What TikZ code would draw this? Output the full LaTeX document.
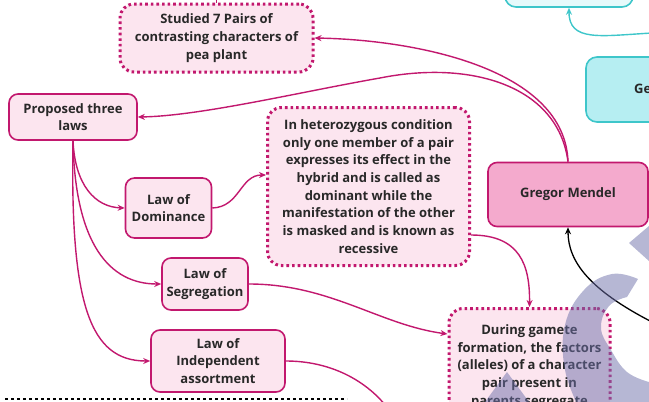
\documentclass[tikz,border=0pt]{standalone}
\usepackage{fontspec}
\setmainfont{Open Sans}
\usetikzlibrary{arrows.meta,calc}
\definecolor{mag}{RGB}{194,24,110}
\definecolor{lpink}{RGB}{252,229,239}
\definecolor{mpink}{RGB}{244,170,205}
\definecolor{tealc}{RGB}{62,198,202}
\definecolor{lcyan}{RGB}{230,250,251}
\definecolor{mcyan}{RGB}{182,238,242}
\definecolor{txt}{RGB}{40,40,40}
\definecolor{wm}{RGB}{110,112,170}
\tikzset{
  base/.style={rounded corners=9pt, font=\fontsize{13}{17.7}\selectfont\bfseries, text=txt, align=center, inner sep=0pt},
  solidbox/.style={base, draw=mag, line width=1.6pt, fill=lpink},
  dotbox/.style={base, draw=mag, line width=3pt, dash pattern=on 2.6pt off 3pt, fill=lpink, rounded corners=14pt},
  cyanbox/.style={base, draw=tealc, line width=1.6pt, rounded corners=11pt},
  conn/.style={draw=mag, line width=1.4pt, -{Stealth[length=7pt,width=6pt]}},
  wmark/.style={fill=wm, fill opacity=0.5, draw=none},
}
\begin{document}
\begin{tikzpicture}[x=1pt,y=-1pt]
\useasboundingbox (0,0) rectangle (649,402);
% cyan boxes
\node[cyanbox, fill=lcyan, minimum width=128pt, minimum height=60pt] (top) at (569,-23) {};
\node[cyanbox, fill=mcyan, minimum width=130pt, minimum height=65pt] (gen) at (651,89.5) {};
\node[base, anchor=west] (gentext) at (634,89) {Ge};
% pink nodes
\node[dotbox, minimum width=193pt, minimum height=68pt] (studied) at (216.5,38) {Studied 7 Pairs of\\contrasting characters of\\pea plant};
\node[solidbox, minimum width=128pt, minimum height=46pt] (proposed) at (73,117) {Proposed three\\laws};
\node[dotbox, minimum width=202pt, minimum height=158pt] (hetero) at (368.5,186.5) {In heterozygous condition\\only one member of a pair\\expresses its effect in the\\hybrid and is called as\\dominant while the\\manifestation of the other\\is masked and is known as\\recessive};
\node[solidbox, fill=mpink, minimum width=160pt, minimum height=64pt] (mendel) at (568,194.5) {Gregor Mendel};
\node[solidbox, minimum width=86pt, minimum height=60pt] (dominance) at (168.5,208) {Law of\\Dominance};
\node[solidbox, minimum width=86pt, minimum height=52pt] (segregation) at (205,284) {Law of\\Segregation};
\node[solidbox, minimum width=134pt, minimum height=62pt] (independent) at (218,361) {Law of\\Independent\\assortment};
\node[dotbox, anchor=north, minimum width=161pt, inner ysep=16pt, text depth=110pt] (during) at (529.5,307) {During gamete\\formation, the factors\\(alleles) of a character\\pair present in\\parents segregate};
% coordinates for free ends
\coordinate (topin) at (216.5,-3);
\coordinate (tealin) at (652,33);
\coordinate (blackin) at (652,322);
\coordinate (indout) at (386,406);
% connectors
\draw[mag, line width=1.4pt] (topin) -- (studied.north);
\draw[conn] (mendel.north) .. controls (565,70) and (420,40) .. (studied.east);
\draw[conn] (mendel.north) .. controls (558,85) and (470,60) .. (380,78) .. controls (300,92) and (200,116) .. (proposed.east);
\draw[conn] (proposed.south) .. controls (75,185) and (95,207) .. (dominance.west);
\draw[conn] (proposed.south) .. controls (75,245) and (110,284) .. (segregation.west);
\draw[conn] (proposed.south) .. controls (70,305) and (90,361) .. (independent.west);
\draw[conn] (dominance.east) .. controls (240,207) and (240,175) .. (hetero.west |- 0,175);
\draw[conn] (segregation.east) .. controls (330,284) and (380,325) .. (during.west |- 0,334);
\draw[conn] (hetero.east |- 0,235) .. controls (520,235) and (530,265) .. (during.north);
\draw[mag, line width=1.4pt] (independent.east) .. controls (330,361) and (365,380) .. (indout);
\draw[black, line width=1.3pt, -{Stealth[length=7pt,width=6pt]}] (blackin) .. controls (590,290) and (568,262) .. (mendel.south);
\draw[tealc, line width=1.4pt, -{Stealth[length=7pt,width=6pt]}] (tealin) .. controls (600,36) and (569,42) .. (top.south);
% dotted line at bottom
\draw[black, line width=2.6pt, dash pattern=on 3pt off 3pt] (5,399) -- (347,399);
% watermark
\fill[wmark] plot[smooth, tension=0.7] coordinates {(638,279) (612,274) (584,290) (565,325) (565,370) (580,410)} -- (655,410) -- (655,383) -- plot[smooth, tension=0.7] coordinates {(649,382) (627,372) (611,350) (601,328) (609,306) (627,297)} -- cycle;
\fill[wmark] (629,243) -- (649,226) -- (649,261) -- cycle;
\fill[wmark] (507,372) -- (532,406) -- (482,406) -- cycle;
\end{tikzpicture}
\end{document}
